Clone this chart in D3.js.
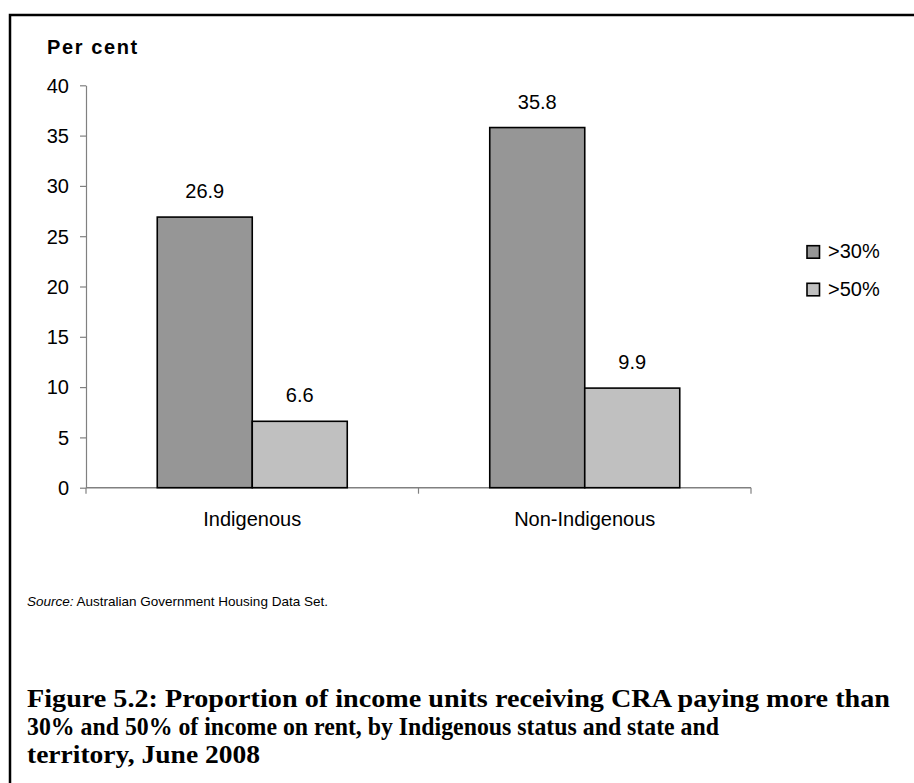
<!DOCTYPE html>
<html>
<head>
<meta charset="utf-8">
<script src="https://cdn.jsdelivr.net/npm/d3@7"></script>
<style>
  html, body { margin: 0; padding: 0; background: #fff; }
  svg { display: block; }
  .sans { font-family: Arial, "Liberation Sans", sans-serif; fill: #000; }
  .serif { font-family: "Liberation Serif", "DejaVu Serif", serif; fill: #000; font-weight: bold; }
</style>
</head>
<body>
<svg id="chart" width="914" height="783"></svg>
<script>
// Chart data
const categories = ["Indigenous", "Non-Indigenous"];
const seriesNames = [">30%", ">50%"];
const over30 = [26.9, 35.8];
const over50 = [6.6, 9.9];
const yTicks = [0, 5, 10, 15, 20, 25, 30, 35, 40];
const seriesColors = ["#969696", "#c0c0c0"];
const captionLines = [
  "Figure 5.2: Proportion of income units receiving CRA paying more than",
  "30% and 50% of income on rent, by Indigenous status and state and",
  "territory, June 2008"
];
const captionWidths = [863, 692, 233];

const rows = categories.map((c, i) => ({ category: c, values: [over30[i], over50[i]] }));

const svg = d3.select("#chart");

// Frame around the figure (left and top rules)
svg.append("path")
  .attr("d", "M10,783 L10,15 L914,15")
  .attr("fill", "none")
  .attr("stroke", "#000")
  .attr("stroke-width", 2.5);

const plot = { left: 86, right: 751, top: 85.3, bottom: 487.7 };

const y = d3.scaleLinear().domain([0, 40]).range([plot.bottom, plot.top]);
const x0 = d3.scaleBand().domain(categories).range([plot.left, plot.right]).paddingInner(0).paddingOuter(0);
const x1 = d3.scaleBand().domain(seriesNames).range([0, x0.bandwidth()]).paddingInner(0).paddingOuter(0.75);

// Y axis
const yAxis = svg.append("g")
  .attr("transform", `translate(${plot.left},0)`)
  .call(d3.axisLeft(y).tickValues(yTicks).tickSize(6).tickSizeOuter(0).tickPadding(11));
yAxis.select(".domain").attr("stroke", "#808080").attr("stroke-width", 1.2);
yAxis.selectAll(".tick line").attr("stroke", "#808080").attr("stroke-width", 1.2);
yAxis.selectAll(".tick text")
  .attr("class", "sans")
  .attr("font-size", 20)
  .attr("dy", "0.34em");

// X axis line with ticks at category boundaries
const boundaries = [plot.left, ...categories.map(c => x0(c) + x0.bandwidth())];
svg.append("line")
  .attr("x1", plot.left).attr("x2", plot.right)
  .attr("y1", y(0)).attr("y2", y(0))
  .attr("stroke", "#808080").attr("stroke-width", 1.5);
svg.selectAll(".xtick")
  .data(boundaries)
  .join("line")
  .attr("class", "xtick")
  .attr("x1", d => d).attr("x2", d => d)
  .attr("y1", y(0)).attr("y2", y(0) + 6)
  .attr("stroke", "#808080").attr("stroke-width", 1.2);

// Category labels
svg.selectAll(".catlabel")
  .data(categories)
  .join("text")
  .attr("class", "catlabel sans")
  .attr("x", d => x0(d) + x0.bandwidth() / 2)
  .attr("y", 526)
  .attr("text-anchor", "middle")
  .attr("font-size", 20)
  .text(d => d);

// Bars
const groups = svg.selectAll(".group")
  .data(rows)
  .join("g")
  .attr("class", "group")
  .attr("transform", d => `translate(${x0(d.category)},0)`);

groups.selectAll("rect")
  .data(d => d.values.map((v, i) => ({ series: seriesNames[i], value: v, i })))
  .join("rect")
  .attr("x", d => x1(d.series))
  .attr("y", d => y(d.value))
  .attr("width", x1.bandwidth())
  .attr("height", d => y(0) - y(d.value))
  .attr("fill", d => seriesColors[d.i])
  .attr("stroke", "#000")
  .attr("stroke-width", 1.6);

groups.selectAll(".vlabel")
  .data(d => d.values.map((v, i) => ({ series: seriesNames[i], value: v })))
  .join("text")
  .attr("class", "vlabel sans")
  .attr("x", d => x1(d.series) + x1.bandwidth() / 2)
  .attr("y", d => y(d.value) - 19)
  .attr("text-anchor", "middle")
  .attr("font-size", 20)
  .text(d => d3.format(".1f")(d.value));

// Axis title
svg.append("text")
  .attr("class", "sans")
  .attr("x", 47).attr("y", 54)
  .attr("font-size", 20)
  .attr("font-weight", "bold")
  .attr("letter-spacing", 1.6)
  .text("Per cent");

// Legend
const legend = svg.selectAll(".legend")
  .data(seriesNames)
  .join("g")
  .attr("class", "legend")
  .attr("transform", (d, i) => `translate(807,${245.7 + i * 37.6})`);
legend.append("rect")
  .attr("width", 12.5).attr("height", 12.5)
  .attr("fill", (d, i) => seriesColors[i])
  .attr("stroke", "#000").attr("stroke-width", 1.6);
legend.append("text")
  .attr("class", "sans")
  .attr("x", 21).attr("y", 12.5)
  .attr("font-size", 20)
  .text(d => d);

// Source note
const src = svg.append("text").attr("class", "sans").attr("x", 27).attr("y", 606).attr("font-size", 13.5);
src.append("tspan").attr("font-style", "italic").text("Source:");
src.append("tspan").text(" Australian Government Housing Data Set.");

// Figure caption
svg.selectAll(".caption")
  .data(captionLines)
  .join("text")
  .attr("class", "caption serif")
  .attr("x", 27)
  .attr("y", (d, i) => 707 + i * 28)
  .attr("font-size", 25)
  .attr("textLength", (d, i) => captionWidths[i])
  .attr("lengthAdjust", "spacingAndGlyphs")
  .text(d => d);
</script>
</body>
</html>
